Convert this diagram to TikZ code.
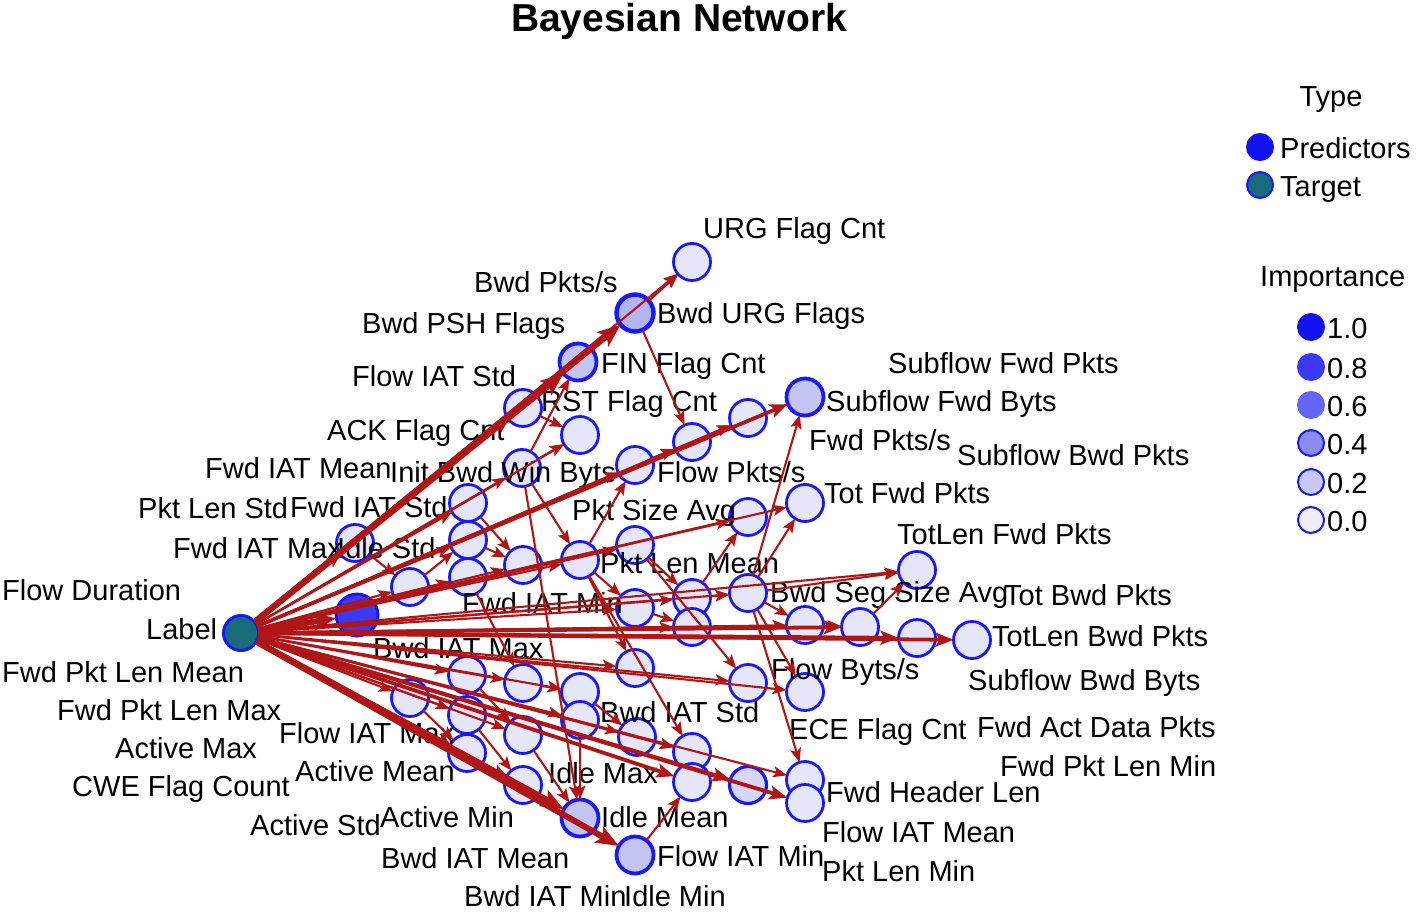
\documentclass[tikz,border=0pt]{standalone}
\usepackage{fontspec}
\setmainfont{Liberation Sans}
\usetikzlibrary{arrows.meta}
\definecolor{edgered}{RGB}{176,22,22}
\definecolor{tealc}{RGB}{22,108,122}
\definecolor{nblue}{RGB}{25,25,245}
\definecolor{f0}{RGB}{230,230,251}
\definecolor{f2}{RGB}{214,214,248}
\definecolor{f4}{RGB}{196,196,242}
\definecolor{f6}{RGB}{180,180,240}
\definecolor{l10}{RGB}{18,18,240}
\definecolor{l08}{RGB}{58,58,245}
\definecolor{l06}{RGB}{100,100,245}
\definecolor{l04}{RGB}{140,140,245}
\definecolor{l02}{RGB}{200,200,250}
\definecolor{l00}{RGB}{238,238,253}
\begin{document}
\begin{tikzpicture}[x=1pt,y=-1pt,
  pn/.style={circle,draw=nblue,line width=2.8pt,fill=f0,minimum size=37pt,inner sep=0pt,outer sep=0pt},
  p0/.style={pn},
  p2/.style={pn,fill=f2,line width=3.2pt},
  p4/.style={pn,fill=f4,line width=3.8pt},
  p6/.style={pn,fill=f6,line width=4.4pt},
  p10/.style={pn,fill=l08,draw=l10,minimum size=42pt},
  tgt/.style={circle,draw=nblue,line width=3pt,fill=tealc,minimum size=35pt,inner sep=0pt,outer sep=0pt},
  lab/.style={anchor=base west,inner sep=0pt,font=\fontsize{29}{32}\selectfont},
  e/.style={draw=edgered,line width=2.1pt,-{Stealth[length=14pt,width=11pt,inset=3pt]}},
  em/.style={draw=edgered,line width=3.8pt,-{Stealth[length=18pt,width=14pt,inset=4pt]}},
  et/.style={draw=edgered,line width=6pt,-{Stealth[length=23pt,width=18pt,inset=5pt]}},
  lg/.style={circle,draw=nblue,line width=2pt,minimum size=26pt,inner sep=0pt},
]
\useasboundingbox (0,0) rectangle (1416,912);
\fill[white] (0,0) rectangle (1416,912);

% title
\node[anchor=base,inner sep=0pt,font=\fontsize{39}{42}\selectfont\bfseries] (title) at (679,32) {Bayesian Network};

% predictor nodes
\node[p0] (c1a) at (355,543) {};
\node[p10] (c1b) at (357,615) {};
\node[p0] (c2a) at (410,587) {};
\node[p0] (c2b) at (410,698) {};
\node[p0] (c3a) at (468,503) {};
\node[p0] (c3b) at (468,540) {};
\node[p0] (c3c) at (468,577) {};
\node[p0] (c3d) at (467,675) {};
\node[p0] (c3e) at (467,715) {};
\node[p0] (c3f) at (467,753) {};
\node[p0] (c4a) at (523,408) {};
\node[p0] (c4b) at (522,468) {};
\node[p0] (c4c) at (523,565) {};
\node[p0] (c4d) at (523,683) {};
\node[p0] (c4e) at (523,735) {};
\node[p0] (c4f) at (523,785) {};
\node[p4] (c5a) at (578,362) {};
\node[p0] (c5b) at (580,435) {};
\node[p0] (c5c) at (580,560) {};
\node[p0] (c5d) at (580,692) {};
\node[p0] (c5e) at (580,720) {};
\node[p4] (c5f) at (580,818) {};
\node[p6] (c6a) at (635,313) {};
\node[p0] (c6b) at (635,465) {};
\node[p0] (c6c) at (635,545) {};
\node[p0] (c6d) at (635,608) {};
\node[p0] (c6e) at (635,668) {};
\node[p0] (c6f) at (637,737) {};
\node[p4] (c6g) at (635,855) {};
\node[p0] (c7a) at (692,262) {};
\node[p0] (c7b) at (692,442) {};
\node[p0] (c7c) at (692,598) {};
\node[p0] (c7d) at (692,627) {};
\node[p0] (c7e) at (692,752) {};
\node[p0] (c7f) at (692,782) {};
\node[p0] (c8a) at (748,418) {};
\node[p0] (c8b) at (748,517) {};
\node[p0] (c8c) at (748,593) {};
\node[p0] (c8d) at (748,683) {};
\node[p2] (c8e) at (748,785) {};
\node[p4] (c9a) at (805,397) {};
\node[p0] (c9b) at (805,503) {};
\node[p0] (c9c) at (805,625) {};
\node[p0] (c9d) at (805,692) {};
\node[p0] (c9e) at (805,780) {};
\node[p0] (c9f) at (805,803) {};
\node[p0] (c10a) at (860,627) {};
\node[p0] (c11a) at (917,570) {};
\node[p0] (c11b) at (917,638) {};
\node[p0] (c12a) at (972,640) {};
\node[tgt] (target) at (241,633) {};

% labels
\node[lab] (t01) at (703,238) {URG Flag Cnt};
\node[lab] (t02) at (474,292) {Bwd Pkts/s};
\node[lab] (t03) at (657,323) {Bwd URG Flags};
\node[lab] (t04) at (362,333) {Bwd PSH Flags};
\node[lab] (t05) at (601,373) {FIN Flag Cnt};
\node[lab] (t06) at (352,386) {Flow IAT Std};
\node[lab] (t07) at (888,373) {Subflow Fwd Pkts};
\node[lab] (t08) at (541,411) {RST Flag Cnt};
\node[lab] (t09) at (826,411) {Subflow Fwd Byts};
\node[lab] (t10) at (327,440) {ACK Flag Cnt};
\node[lab] (t11) at (809,450) {Fwd Pkts/s};
\node[lab] (t12) at (957,465) {Subflow Bwd Pkts};
\node[lab] (t13) at (205,478) {Fwd IAT Mean};
\node[lab] (t14) at (390,482) {Init Bwd Win Byts};
\node[lab] (t15) at (657,482) {Flow Pkts/s};
\node[lab] (t16) at (824,503) {Tot Fwd Pkts};
\node[lab] (t17) at (138,518) {Pkt Len Std};
\node[lab] (t18) at (290,517) {Fwd IAT Std};
\node[lab] (t19) at (572,520) {Pkt Size Avg};
\node[lab] (t20) at (897,544) {TotLen Fwd Pkts};
\node[lab] (t21) at (173,558) {Fwd IAT Max};
\node[lab] (t22) at (337,558) {Idle Std};
\node[lab] (t23) at (600,573) {Pkt Len Mean};
\node[lab] (t24) at (2,600) {Flow Duration};
\node[lab] (t25) at (462,613) {Fwd IAT Min};
\node[lab] (t26) at (770,602) {Bwd Seg Size Avg};
\node[lab] (t27) at (1004,605) {Tot Bwd Pkts};
\node[lab] (t28) at (146,639) {Label};
\node[lab] (t29) at (992,646) {TotLen Bwd Pkts};
\node[lab] (t30) at (373,658) {Bwd IAT Max};
\node[lab] (t31) at (2,682) {Fwd Pkt Len Mean};
\node[lab] (t32) at (771,679) {Flow Byts/s};
\node[lab] (t33) at (968,690) {Subflow Bwd Byts};
\node[lab] (t34) at (57,720) {Fwd Pkt Len Max};
\node[lab] (t35) at (600,722) {Bwd IAT Std};
\node[lab] (t36) at (279,743) {Flow IAT Max};
\node[lab] (t37) at (789,739) {ECE Flag Cnt};
\node[lab] (t38) at (977,737) {Fwd Act Data Pkts};
\node[lab] (t39) at (115,758) {Active Max};
\node[lab] (t40) at (295,781) {Active Mean};
\node[lab] (t41) at (548,783) {Idle Max};
\node[lab] (t42) at (1000,776) {Fwd Pkt Len Min};
\node[lab] (t43) at (72,796) {CWE Flag Count};
\node[lab] (t44) at (826,802) {Fwd Header Len};
\node[lab] (t45) at (250,835) {Active Std};
\node[lab] (t46) at (380,827) {Active Min};
\node[lab] (t47) at (601,827) {Idle Mean};
\node[lab] (t48) at (822,842) {Flow IAT Mean};
\node[lab] (t49) at (381,868) {Bwd IAT Mean};
\node[lab] (t50) at (657,866) {Flow IAT Min};
\node[lab] (t51) at (822,881) {Pkt Len Min};
\node[lab] (t52) at (464,906) {Bwd IAT Min};
\node[lab] (t53) at (624,906) {Idle Min};

% edges from the target
\foreach \n in {c1a,c2a,c2b,c3a,c3b,c3c,c3d,c3e,c3f,c4a,c4b,c4c,c4d,c4e,c4f,
  c5b,c5c,c5d,c5e,c6b,c6c,c6d,c6e,c6f,c7a,c7b,c7c,c7d,c7e,c8a,c8b,c8c,c8d,
  c9b,c9c,c9d,c9e,c11a}
  \draw[e] (target) -- (\n);
\foreach \n in {c9a,c12a,c11b,c8e,c9f,c7f,c10a}
  \draw[em] (target) -- (\n);
\foreach \n in {c6a,c5a,c1b,c6g,c5f}
  \draw[et] (target) -- (\n);

% edges between predictors
\foreach \a/\b in {c6a/c7a,c6a/c7b,c4b/c5b,c4b/c5a,c4b/c5c,c4b/c5f,c8c/c9a,c8c/c9b,
  c7c/c8b,c5c/c6b,c5c/c6d,c3a/c4c,c5c/c6e,c5c/c7e,c6c/c7c,c7c/c8c,c8c/c9c,c8c/c11a,
  c10a/c11a,c9c/c10a,c8c/c9e,c8c/c9d,c6c/c8d,c6g/c7f,c2b/c3f,c3e/c4f,c5e/c5f,c4e/c5f,
  c1a/c2a,c2a/c3b,c3b/c4c,c4a/c5b,c6b/c7b,c7b/c8a,c4d/c5d,c3d/c4e,c6f/c7e,c5d/c6f,
  c3c/c4d,c6d/c7d}
  \draw[e] (\a) -- (\b);

% legend
\node[anchor=base,inner sep=0pt,font=\fontsize{29}{32}\selectfont] (ltype) at (1331,107) {Type};
\node[lg,fill=l10,draw=l10] (lgp) at (1260,147) {};
\node[lab] (lgpt) at (1280,159) {Predictors};
\node[lg,fill=tealc] (lgt) at (1260,185) {};
\node[lab] (lgtt) at (1280,197) {Target};
\node[lab] (limp) at (1260,286) {Importance};
\node[lg,fill=l10,draw=l10] (i10) at (1311,327) {};
\node[lab] (i10t) at (1327,338) {1.0};
\node[lg,fill=l08,draw=l08] (i08) at (1311,367) {};
\node[lab] (i08t) at (1327,378) {0.8};
\node[lg,fill=l06,draw=l06] (i06) at (1311,405) {};
\node[lab] (i06t) at (1327,416) {0.6};
\node[lg,fill=l04] (i04) at (1311,443) {};
\node[lab] (i04t) at (1327,454) {0.4};
\node[lg,fill=l02] (i02) at (1311,482) {};
\node[lab] (i02t) at (1327,493) {0.2};
\node[lg,fill=l00] (i00) at (1311,520) {};
\node[lab] (i00t) at (1327,531) {0.0};
\end{tikzpicture}
\end{document}
